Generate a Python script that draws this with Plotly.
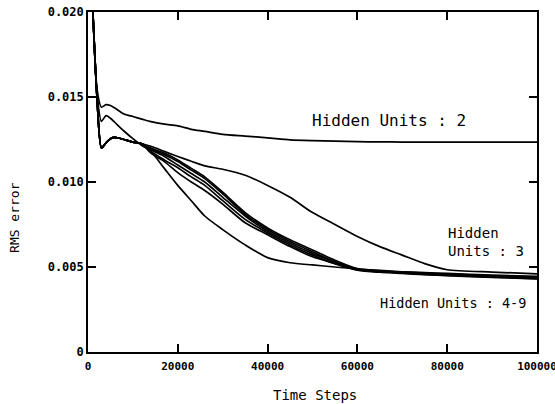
import plotly.graph_objects as go

# ---- data ----
steps = [0, 1000, 2000, 3000, 4000, 5000, 6000, 8000, 10000, 12000, 14000, 17000,
         20000, 23000, 26000, 30000, 35000, 40000, 45000, 50000, 55000, 60000,
         65000, 70000, 75000, 80000, 90000, 100000]

hu2 = [0.026, 0.0205, 0.0155, 0.0144, 0.01455, 0.0145, 0.01435, 0.0140, 0.01385, 0.0137, 0.01355, 0.0134,
       0.0133, 0.0131, 0.01298, 0.0128, 0.0127, 0.0126, 0.01248, 0.01243, 0.0124, 0.01237,
       0.01236, 0.01235, 0.01235, 0.01235, 0.01235, 0.01235]

hu3 = [0.026, 0.0205, 0.0150, 0.0120, 0.0123, 0.01255, 0.01262, 0.0125, 0.01235, 0.01225, 0.0121, 0.0118,
       0.0115, 0.01122, 0.01095, 0.01075, 0.0104, 0.0098, 0.0091, 0.0082, 0.0075, 0.0068,
       0.0062, 0.0057, 0.0052, 0.00484, 0.0047, 0.0046]

hu_a = [0.026, 0.0205, 0.0152, 0.01357, 0.0139, 0.01375, 0.0135, 0.0130, 0.01255, 0.01215, 0.0118, 0.0108,
        0.0098, 0.0089, 0.0080, 0.0072, 0.0063, 0.00555, 0.00525, 0.00512, 0.0050, 0.00488,
        0.0048, 0.00472, 0.00467, 0.00462, 0.00452, 0.00445]

hu_b = [0.026, 0.0205, 0.0150, 0.0120, 0.0123, 0.01255, 0.01262, 0.0125, 0.01235, 0.01225, 0.0120, 0.0117,
        0.0113, 0.0108, 0.0103, 0.0094, 0.0082, 0.0073, 0.0066, 0.0060, 0.0054, 0.0049,
        0.00478, 0.0047, 0.00464, 0.00458, 0.00448, 0.0044]

hu_c = [0.026, 0.0205, 0.0150, 0.0120, 0.0123, 0.01255, 0.01262, 0.0125, 0.01235, 0.01225, 0.01195, 0.0116,
        0.0112, 0.0107, 0.0102, 0.0093, 0.0081, 0.0072, 0.0065, 0.0059, 0.0053, 0.00488,
        0.00475, 0.00468, 0.00461, 0.00455, 0.00445, 0.00437]

hu_d = [0.026, 0.0205, 0.0150, 0.0120, 0.0123, 0.01255, 0.01262, 0.0125, 0.01235, 0.01225, 0.0119, 0.0115,
        0.0110, 0.0105, 0.0100, 0.0091, 0.0080, 0.0071, 0.0064, 0.0058, 0.0053, 0.00486,
        0.00473, 0.00466, 0.00459, 0.00453, 0.00443, 0.00435]

hu_e = [0.026, 0.0205, 0.0150, 0.0120, 0.0123, 0.01255, 0.01262, 0.0125, 0.01235, 0.01225, 0.0118, 0.0113,
        0.01084, 0.0103, 0.0098, 0.0089, 0.0078, 0.0070, 0.0063, 0.0057, 0.0052, 0.00484,
        0.00471, 0.00464, 0.00457, 0.00451, 0.00441, 0.00432]

hu_f = [0.026, 0.0205, 0.0150, 0.0120, 0.0123, 0.01255, 0.01262, 0.0125, 0.01235, 0.01225, 0.0117, 0.0112,
        0.01055, 0.0100, 0.0095, 0.0087, 0.0076, 0.0069, 0.0062, 0.0056, 0.0052, 0.00482,
        0.00469, 0.00462, 0.00455, 0.00449, 0.00439, 0.0043]

series = [hu2, hu3, hu_a, hu_b, hu_c, hu_d, hu_e, hu_f]

x_ticks = [0, 20000, 40000, 60000, 80000, 100000]
x_ticktext = ["0", "20000", "40000", "60000", "80000", "100000"]
y_ticks = [0, 0.005, 0.010, 0.015, 0.020]
y_ticktext = ["0", "0.005", "0.010", "0.015", "0.020"]

labels = ["Hidden Units : 2", "Hidden<br>Units : 3", "Hidden Units : 4-9"]
label_x = [67000, 79800, 64500]
label_y = [0.0136, 0.00645, 0.0029]
label_size = [16, 14, 13.5]
label_anchor = ["center", "left", "left"]

# ---- figure ----
MONO = "DejaVu Sans Mono"
fig = go.Figure()
for s in series:
    fig.add_trace(go.Scatter(x=steps, y=s, mode="lines",
                             line=dict(color="black", width=1.7, shape="spline", smoothing=0.7),
                             showlegend=False, hoverinfo="skip"))

for t, lx, ly, sz, anc in zip(labels, label_x, label_y, label_size, label_anchor):
    fig.add_annotation(x=lx, y=ly, xref="x", yref="y", text=t, showarrow=False,
                       xanchor=anc, yanchor="middle", align="left",
                       font=dict(family=MONO, size=sz, color="black"))

fig.add_annotation(x=-0.165, y=0.397, xref="paper", yref="paper", text="RMS error",
                   textangle=-90, showarrow=False, xanchor="center", yanchor="middle",
                   font=dict(family=MONO, size=13, color="black"))
fig.add_annotation(x=0.505, y=-0.126, xref="paper", yref="paper", text="Time Steps",
                   showarrow=False, xanchor="center", yanchor="middle",
                   font=dict(family=MONO, size=14, color="black"))

axis_common = dict(showline=True, linecolor="black", linewidth=1.8, mirror="allticks",
                   ticks="inside", ticklen=8, tickwidth=2, tickcolor="black",
                   showgrid=False, zeroline=False, ticklabeloverflow="allow")

fig.update_xaxes(range=[0, 100000], tickvals=x_ticks, ticktext=x_ticktext,
                 tickfont=dict(family=MONO, size=11, color="black", weight="bold"),
                 ticklabelstandoff=3, **axis_common)
fig.update_yaxes(range=[0, 0.020], tickvals=y_ticks, ticktext=y_ticktext,
                 tickfont=dict(family=MONO, size=12, color="black", weight="bold"),
                 **axis_common)

fig.update_layout(width=555, height=404,
                  margin=dict(l=88, r=18, t=12, b=52, autoexpand=False),
                  paper_bgcolor="white", plot_bgcolor="white")

# remove the default page margin so the figure fills the window exactly
fig.write_html("out.html",
               config={"displayModeBar": False, "staticPlot": True},
               post_script="document.body.style.margin='0';document.body.style.overflow='hidden';")
